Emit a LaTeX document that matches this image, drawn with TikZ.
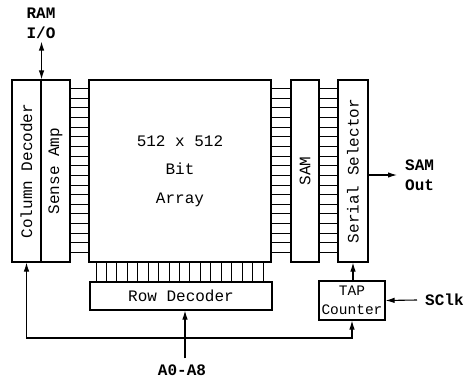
\documentclass[tikz,border=0pt]{standalone}
\usepackage{fontspec}
\setmonofont{Liberation Mono}
\usetikzlibrary{arrows.meta,positioning,calc}

\begin{document}
\begin{tikzpicture}[
  x=1pt, y=-1pt,
  font=\fontsize{16}{19}\selectfont\ttfamily,
  >={Latex[length=9pt,width=5.5pt]},
  box/.style={
    draw,
    line width=1.1pt,
    inner sep=0pt,
    align=center
  },
  rung/.style={
    line width=1pt
  },
  sig/.style={
    ->,
    line width=1.1pt
  },
  pin/.style={
    font=\fontsize{16}{20}\selectfont\ttfamily\bfseries,
    inner sep=0pt,
    align=center
  }
]
\useasboundingbox (0,0) rectangle (464,386);

%-----------------------------
% Memory blocks
%-----------------------------
\node[box, minimum width=29pt, minimum height=182pt,
  label={[rotate=90]center:Column Decoder}] (coldec) at (26.5,171) {};
\node[box, minimum width=29pt, minimum height=182pt,
  label={[rotate=90]center:Sense Amp}] (sense) at (55.5,171) {};
\node[box, minimum width=182pt, minimum height=182pt,
  font=\fontsize{16}{28.5}\selectfont\ttfamily] (array) at (180,171) {512 x 512\\Bit\\Array};
\node[box, minimum width=28pt, minimum height=182pt,
  label={[rotate=90]center:SAM}] (sam) at (305,171) {};
\node[box, minimum width=30pt, minimum height=182pt,
  label={[rotate=90]center:Serial Selector}] (sersel) at (353,171) {};
\node[box, minimum width=182pt, minimum height=28pt] (rowdec) at (181,296) {Row Decoder};
\node[box, minimum width=66pt, minimum height=39pt,
  font=\fontsize{14.5}{19}\selectfont\ttfamily] (tap) at (352,300.5) {TAP\\Counter};

%-----------------------------
% Bit lines and word lines
%-----------------------------
\foreach \i [evaluate=\i as \yy using 88.5+9.65*\i] in {0,...,17} {
  \draw[rung] (sense.east |- 0,\yy) -- (array.west |- 0,\yy);
  \draw[rung] (array.east |- 0,\yy) -- (sam.west |- 0,\yy);
  \draw[rung] (sam.east |- 0,\yy) -- (sersel.west |- 0,\yy);
}
\foreach \i [evaluate=\i as \xx using 96+10.44*\i] in {0,...,16}
  \draw[rung] (array.south -| \xx,0) -- (rowdec.north -| \xx,0);

%-----------------------------
% Pins
%-----------------------------
\node[pin] (ramio) at (41,23) {RAM\\I/O};
\node[pin, anchor=west, align=left] (samout) at (405,175) {SAM\\Out};
\node[pin, anchor=west] (sclk) at (425,300) {SClk};
\node[pin] (addr) at (182,370) {A0-A8};
\coordinate (bus) at (0,338);

%-----------------------------
% Signals
%-----------------------------
\draw[sig, <->] ([yshift=-3pt]ramio.south -| coldec.north east) -- (coldec.north east);
\draw[sig] (sersel.east |- samout.west) -- ([xshift=-8pt]samout.west);
\draw[sig] ([xshift=-8pt]sclk.west) -- (tap.east);
\draw[sig] ([yshift=6pt]addr.north -| 185,0) -- (rowdec.south -| 185,0);
\draw[sig] (tap.north -| sersel.south) -- (sersel.south);
\draw[sig, <->] (coldec.south) |- (bus -| tap.south) -- (tap.south);

\end{tikzpicture}
\end{document}
